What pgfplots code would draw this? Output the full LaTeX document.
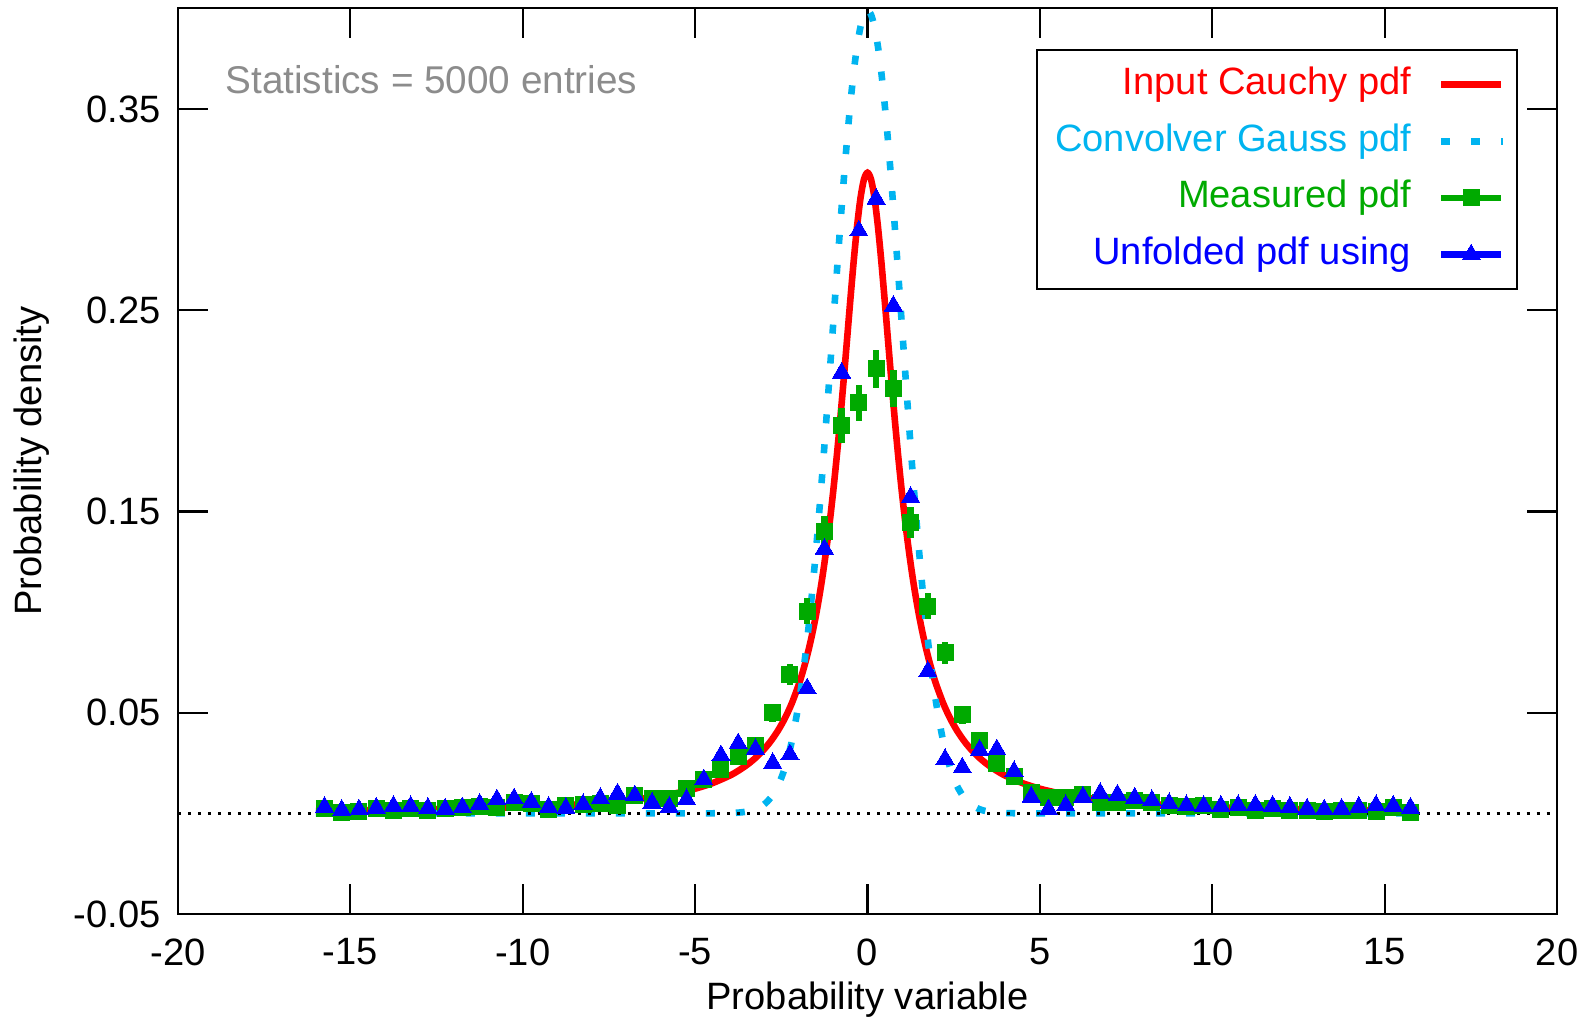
\documentclass[border=0pt]{standalone}
\usepackage{fontspec}
\setmainfont{Liberation Sans}
\usepackage{pgfplots}
\usepackage{pgfplotstable}
\pgfplotsset{compat=1.18}
\definecolor{cred}{RGB}{255,0,0}
\definecolor{ccyan}{RGB}{0,180,240}
\definecolor{cgreen}{RGB}{0,170,0}
\definecolor{cblue}{RGB}{0,0,255}
\definecolor{cgray}{RGB}{140,140,140}

\pgfplotsset{
  legline/.style={legend image code/.code={
    \path[use as bounding box, draw=none, fill=none] (0pt,-3pt) rectangle (19.3pt,3pt);
    \draw[##1] (0pt,0pt) -- (20pt,0pt);}},
  leggauss/.style={legend image code/.code={
    \path[use as bounding box, draw=none, fill=none] (0pt,-3pt) rectangle (19.3pt,3pt);
    \draw[##1] (0pt,0pt) -- (20.5pt,0pt);}},
  legmark/.style={legend image code/.code={
    \path[use as bounding box, draw=none, fill=none] (0pt,-3pt) rectangle (19.3pt,3pt);
    \draw[#1, line width=2.2pt] (0pt,0pt) -- (20pt,0pt);
    \draw[##1] plot coordinates {(10pt,0pt)};}},
}

\pgfplotstableread{
x g ge b
-15.75 0.0022 0.0009 0.0031
-15.25 0.0003 0.0003 0.0016
-14.75 0.0008 0.0006 0.0018
-14.25 0.0022 0.0009 0.0027
-13.75 0.0013 0.0007 0.0036
-13.25 0.0022 0.0009 0.0034
-12.75 0.0013 0.0007 0.0026
-12.25 0.0022 0.0009 0.0022
-11.75 0.0027 0.0010 0.0029
-11.25 0.0032 0.0011 0.0046
-10.75 0.0027 0.0010 0.0068
-10.25 0.0056 0.0015 0.0073
-9.75 0.0047 0.0014 0.0056
-9.25 0.0018 0.0008 0.0031
-8.75 0.0039 0.0012 0.0026
-8.25 0.0046 0.0014 0.0044
-7.75 0.0047 0.0014 0.0075
-7.25 0.0037 0.0012 0.0097
-6.75 0.0087 0.0019 0.0088
-6.25 0.0076 0.0017 0.0052
-5.75 0.0072 0.0017 0.0031
-5.25 0.0121 0.0022 0.0069
-4.75 0.0168 0.0026 0.0168
-4.25 0.0218 0.0030 0.0287
-3.75 0.0280 0.0033 0.0347
-3.25 0.0335 0.0037 0.0318
-2.75 0.0500 0.0045 0.0249
-2.25 0.0690 0.0053 0.0292
-1.75 0.1005 0.0063 0.0620
-1.25 0.1400 0.0075 0.1314
-0.75 0.1926 0.0088 0.2189
-0.25 0.2040 0.0090 0.2895
0.25 0.2208 0.0094 0.3053
0.75 0.2113 0.0092 0.2521
1.25 0.1445 0.0076 0.1571
1.75 0.1030 0.0064 0.0705
2.25 0.0797 0.0056 0.0269
2.75 0.0490 0.0044 0.0227
3.25 0.0360 0.0038 0.0315
3.75 0.0246 0.0031 0.0317
4.25 0.0181 0.0027 0.0208
4.75 0.0102 0.0020 0.0081
5.25 0.0081 0.0018 0.0019
5.75 0.0081 0.0018 0.0039
6.25 0.0095 0.0019 0.0082
6.75 0.0052 0.0014 0.0100
7.25 0.0052 0.0014 0.0092
7.75 0.0062 0.0016 0.0077
8.25 0.0052 0.0014 0.0064
8.75 0.0037 0.0012 0.0049
9.25 0.0032 0.0011 0.0039
9.75 0.0037 0.0012 0.0036
10.25 0.0019 0.0009 0.0036
10.75 0.0031 0.0011 0.0039
11.25 0.0016 0.0008 0.0041
11.75 0.0022 0.0009 0.0037
12.25 0.0016 0.0008 0.0031
12.75 0.0016 0.0008 0.0022
13.25 0.0011 0.0007 0.0018
13.75 0.0016 0.0008 0.0022
14.25 0.0016 0.0008 0.0031
14.75 0.0011 0.0007 0.0039
15.25 0.0027 0.0010 0.0037
15.75 0.0003 0.0003 0.0027
}\measured

\begin{document}
\fontsize{12.7}{15}\selectfont
\begin{tikzpicture}
\begin{axis}[
  name=ax,
  scale only axis, width=459.7pt, height=301.9pt,
  xmin=-20, xmax=20, ymin=-0.05, ymax=0.4,
  xtick={-20,-15,-10,-5,0,5,10,15,20},
  xticklabels={-20,-15,-10,-5,0,5,10,15,20},
  ytick={-0.05,0.05,0.15,0.25,0.35},
  yticklabels={-0.05,0.05,0.15,0.25,0.35},
  minor tick num=0,
  tick align=inside, major tick length=10pt,
  every tick/.style={black, line width=0.7pt},
  axis line style={line width=0.7pt},
  xticklabel style={inner sep=0pt, anchor=north, yshift=-8pt},
  yticklabel style={inner sep=0pt, anchor=east, xshift=-5.6pt},
  xlabel={Probability variable}, ylabel={Probability density},
  xlabel style={at={(axis description cs:0.5,-0.105)}, anchor=base, inner sep=0pt},
  ylabel style={at={(axis description cs:-0.099,0.5)}, anchor=base, inner sep=0pt},
  legend plot pos=right,
  legend cell align=right,
  legend style={at={(axis description cs:0.9718,0.9547)}, anchor=north east,
    draw=black, line width=0.7pt, fill=white,
    inner xsep=6pt, inner ysep=5.4pt, row sep=6.9pt, column sep=10.05pt,
    nodes={inner sep=0pt, text height=9.3pt, text depth=2.7pt}},
]
\addplot[cred, line width=2.2pt, smooth, legline]
coordinates {
(-16,0.00124) (-15,0.00141) (-14,0.00162) (-13,0.00187) (-12,0.00220) (-11,0.00261)
(-10,0.00315) (-9,0.00388) (-8,0.00490) (-7,0.00637) (-6,0.00860) (-5.5,0.01019)
(-5,0.01224) (-4.5,0.01498) (-4,0.01872) (-3.75,0.02113) (-3.5,0.02402) (-3.25,0.02753)
(-3,0.03183) (-2.8,0.03601) (-2.6,0.04102) (-2.4,0.04709) (-2.2,0.05450) (-2,0.06366)
(-1.9,0.06905) (-1.8,0.07507) (-1.7,0.08183) (-1.6,0.08941) (-1.5,0.09794) (-1.4,0.10754)
(-1.3,0.11833) (-1.2,0.13046) (-1.1,0.14403) (-1,0.15915) (-0.9,0.17586) (-0.8,0.19409)
(-0.7,0.21363) (-0.6,0.23405) (-0.5,0.25465) (-0.4,0.27441) (-0.3,0.29203) (-0.2,0.30607)
(-0.1,0.31516) (0,0.31831)
(0.1,0.31516) (0.2,0.30607) (0.3,0.29203) (0.4,0.27441) (0.5,0.25465) (0.6,0.23405)
(0.7,0.21363) (0.8,0.19409) (0.9,0.17586) (1,0.15915) (1.1,0.14403) (1.2,0.13046)
(1.3,0.11833) (1.4,0.10754) (1.5,0.09794) (1.6,0.08941) (1.7,0.08183) (1.8,0.07507)
(1.9,0.06905) (2,0.06366) (2.2,0.05450) (2.4,0.04709) (2.6,0.04102) (2.8,0.03601)
(3,0.03183) (3.25,0.02753) (3.5,0.02402) (3.75,0.02113) (4,0.01872) (4.5,0.01498)
(5,0.01224) (5.5,0.01019) (6,0.00860) (7,0.00637) (8,0.00490) (9,0.00388)
(10,0.00315) (11,0.00261) (12,0.00220) (13,0.00187) (14,0.00162) (15,0.00141) (16,0.00124)
};
\addlegendentry{\textcolor{cred}{Input Cauchy pdf}}
\addplot[ccyan, line width=2.2pt, dash pattern=on 3pt off 7pt, smooth, leggauss]
coordinates {
(-16,0) (-12,0) (-8,0) (-6,0) (-5,0) (-4.5,0.000016) (-4,0.00013) (-3.75,0.00035)
(-3.5,0.00087) (-3.25,0.00203) (-3,0.00443) (-2.8,0.00792) (-2.6,0.01358) (-2.4,0.02239)
(-2.2,0.03547) (-2,0.05399) (-1.9,0.06562) (-1.8,0.07895) (-1.7,0.09405) (-1.6,0.11092)
(-1.5,0.12952) (-1.4,0.14973) (-1.3,0.17137) (-1.2,0.19419) (-1.1,0.21785) (-1,0.24197)
(-0.9,0.26609) (-0.8,0.28969) (-0.7,0.31225) (-0.6,0.33322) (-0.5,0.35207) (-0.4,0.36827)
(-0.3,0.38139) (-0.2,0.39104) (-0.1,0.39695) (0,0.39894)
(0.1,0.39695) (0.2,0.39104) (0.3,0.38139) (0.4,0.36827) (0.5,0.35207) (0.6,0.33322)
(0.7,0.31225) (0.8,0.28969) (0.9,0.26609) (1,0.24197) (1.1,0.21785) (1.2,0.19419)
(1.3,0.17137) (1.4,0.14973) (1.5,0.12952) (1.6,0.11092) (1.7,0.09405) (1.8,0.07895)
(1.9,0.06562) (2,0.05399) (2.2,0.03547) (2.4,0.02239) (2.6,0.01358) (2.8,0.00792)
(3,0.00443) (3.25,0.00203) (3.5,0.00087) (3.75,0.00035) (4,0.00013) (4.5,0.000016)
(5,0) (6,0) (8,0) (12,0) (16,0)
};
\addlegendentry{\textcolor{ccyan}{Convolver Gauss pdf}}
\addplot[cgreen, only marks, mark=square*, mark size=2.67pt,
  mark options={solid, draw=cgreen, fill=cgreen, line width=0pt},
  legmark=cgreen,
  error bars/.cd, y dir=both, y explicit, error mark=none,
  error bar style={line width=2.2pt, cgreen}]
table[x=x, y=g, y error=ge] {\measured};
\addlegendentry{\textcolor{cgreen}{Measured pdf}}
\addplot[cblue, only marks, mark=triangle*, mark size=3.5pt,
  mark options={solid, draw=cblue, fill=cblue, line width=0pt},
  legmark=cblue]
table[x=x, y=b] {\measured};
\addlegendentry{\textcolor{cblue}{Unfolded pdf using}}
\addplot[black, line width=0.9pt, dash pattern=on 1pt off 2.33pt, forget plot]
coordinates {(-20,0) (20,0)};
\node[anchor=base west, inner sep=0pt, text=cgray, font=\fontsize{12.9}{15}\selectfont] at (axis cs:-18.64,0.3575) {Statistics = 5000 entries};
\end{axis}
\pgfresetboundingbox
\path[use as bounding box] ([xshift=-59.33pt,yshift=-35pt]ax.south west) rectangle ([xshift=10pt,yshift=2.77pt]ax.north east);
\end{tikzpicture}
\end{document}
